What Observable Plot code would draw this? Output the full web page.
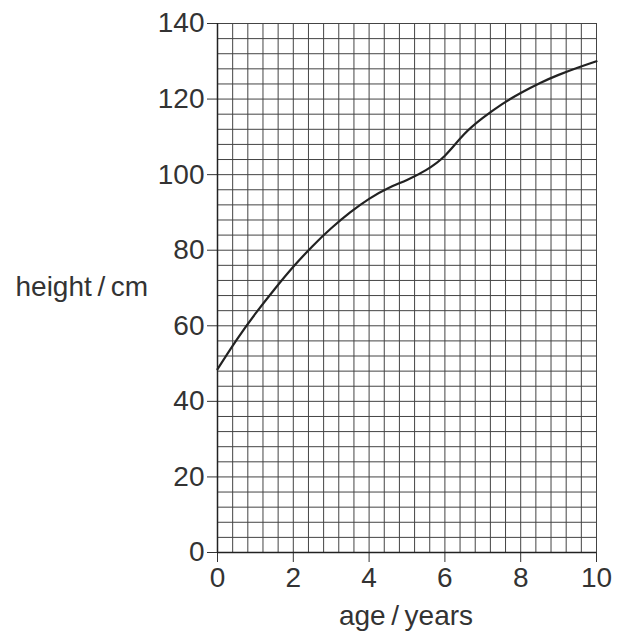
<!DOCTYPE html>
<html>
<head>
<meta charset="utf-8">
<script src="https://cdn.jsdelivr.net/npm/d3@7"></script>
<script src="https://cdn.jsdelivr.net/npm/@observablehq/plot@0.6"></script>
<style>
  html, body { margin: 0; padding: 0; background: #fff; }
  #chart svg { display: block; }
</style>
</head>
<body>
<div id="chart"></div>
<script>
// Data
const ages    = [0, 0.5, 1, 1.5, 2, 2.5, 3, 3.5, 4, 4.5, 5, 5.5, 6, 6.5, 7, 7.5, 8, 8.5, 9, 9.5, 10];
const heights = [48.5, 56.2, 63.2, 69.6, 75.6, 81.0, 85.8, 90.0, 93.6, 96.4, 98.6, 101.2, 105.0, 110.6, 115.0, 118.6, 121.6, 124.2, 126.4, 128.3, 130.0];
const xTicks = [0, 2, 4, 6, 8, 10];
const yTicks = [0, 20, 40, 60, 80, 100, 120, 140];
const xGrid = d3.range(26).map(i => +(i * 0.4).toFixed(1));
const yGrid = d3.range(36).map(i => i * 4);
const xLabel = "age\u2009/\u2009years";
const yLabel = "height\u2009/\u2009cm";

const data = ages.map((a, i) => ({age: a, height: heights[i]}));

const font = "'Liberation Sans', Arial, Helvetica, sans-serif";
const ink = "#333";

const chart = Plot.plot({
  width: 617,
  height: 643,
  marginLeft: 217,
  marginRight: 21,
  marginTop: 23,
  marginBottom: 91,
  style: {fontFamily: font, fontSize: "28px", color: ink, background: "#fff"},
  x: {domain: [0, 10]},
  y: {domain: [0, 140]},
  marks: [
    Plot.ruleX(xGrid, {stroke: "#444", strokeWidth: 1}),
    Plot.ruleY(yGrid, {stroke: "#444", strokeWidth: 1}),
    Plot.axisX({ticks: xTicks, tickSize: 10, tickPadding: 5, label: null, stroke: ink, fontSize: 28}),
    Plot.axisY({ticks: yTicks, tickSize: 10, tickPadding: 3, label: null, stroke: ink, fontSize: 28}),
    Plot.ruleX([0], {stroke: "#222", strokeWidth: 1.5}),
    Plot.ruleY([0], {stroke: "#222", strokeWidth: 1.5}),
    Plot.line(data, {x: "age", y: "height", curve: "natural", stroke: "#222", strokeWidth: 2.2}),
    Plot.text([yLabel], {frameAnchor: "left", textAnchor: "start", dx: -202, dy: -1, fontSize: 28, fill: ink}),
    Plot.text([xLabel], {frameAnchor: "bottom", textAnchor: "middle", dx: -1, dy: 72, fontSize: 28, fill: ink})
  ]
});
document.getElementById("chart").appendChild(chart);
</script>
</body>
</html>
